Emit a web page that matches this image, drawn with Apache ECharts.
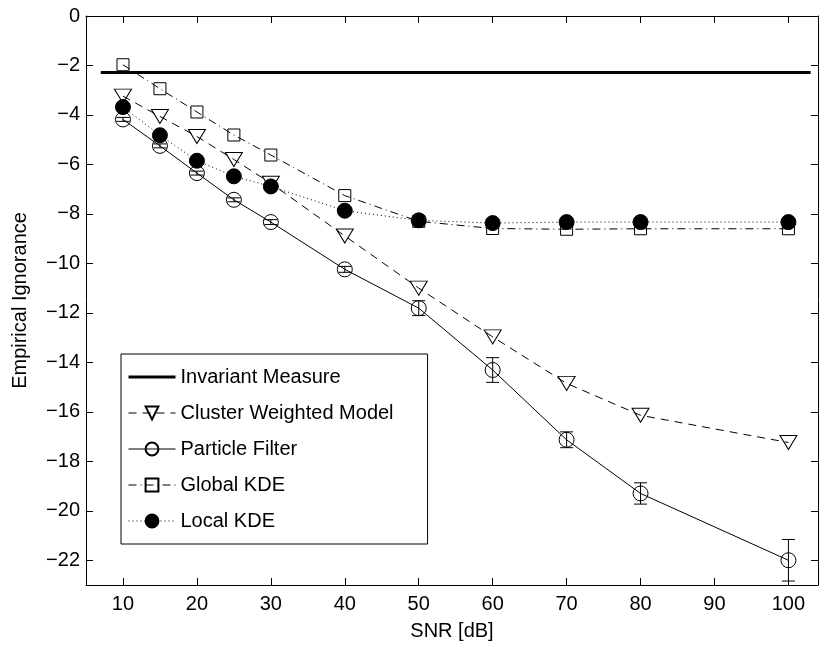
<!DOCTYPE html>
<html>
<head>
<meta charset="utf-8">
<script src="https://cdn.jsdelivr.net/npm/echarts@6/dist/echarts.min.js"></script>
<style>
  html, body { margin: 0; padding: 0; background: #fff; }
  #chart { width: 821px; height: 646px; }
</style>
</head>
<body>
<div id="chart"></div>
<script>
// SNR values (dB) at which each method was evaluated
const snr = [10, 15, 20, 25, 30, 40, 50, 60, 70, 80, 100];

// Empirical ignorance per method
const invariantX = [7, 103];
const invariantY = [-2.28, -2.28];
const clusterWeighted = [-3.24, -4.06, -4.87, -5.8, -6.76, -8.89, -11.0, -12.97, -14.85, -16.14, -17.24];
const particleFilter = [-4.18, -5.25, -6.35, -7.43, -8.33, -10.24, -11.81, -14.31, -17.13, -19.3, -22.0];
const particleFilterErr = [0.08, 0.08, 0.08, 0.08, 0.1, 0.12, 0.3, 0.5, 0.32, 0.43, 0.84];
const globalKDE = [-1.97, -2.94, -3.88, -4.81, -5.62, -7.26, -8.3, -8.59, -8.62, -8.6, -8.6];
const localKDE = [-3.68, -4.82, -5.85, -6.48, -6.89, -7.87, -8.26, -8.37, -8.33, -8.33, -8.33];

// Tick positions
const xTicks = [10, 20, 30, 40, 50, 60, 70, 80, 90, 100];
const yTicks = [0, -2, -4, -6, -8, -10, -12, -14, -16, -18, -20, -22];

const names = ['Invariant Measure', 'Cluster Weighted Model', 'Particle Filter', 'Global KDE', 'Local KDE'];

const FONT = 'Liberation Sans, Arial, Helvetica, sans-serif';
const pairs = (xs, ys) => xs.map((x, i) => [x, ys[i]]);
const minus = v => String(v).replace('-', '\u2212');

const chart = echarts.init(document.getElementById('chart'), null, { renderer: 'canvas' });

const frameAxis = {
  type: 'value',
  axisLine: { show: true, onZero: false, lineStyle: { color: '#000', width: 1 } },
  axisTick: { show: true, inside: true, length: 7, lineStyle: { color: '#000', width: 1 } },
  splitLine: { show: false },
  axisLabel: { show: false }
};

// legend entries; the reference line keeps its heavier stroke
const legendData = names.map(n => n === 'Invariant Measure'
  ? { name: n, lineStyle: { width: 3 } }
  : { name: n });

const option = {
  animation: false,
  backgroundColor: '#fff',
  textStyle: { fontFamily: FONT, color: '#000' },
  grid: { left: 86, right: 3, top: 16, bottom: 57, containLabel: false },
  xAxis: [
    Object.assign({}, frameAxis, {
      position: 'bottom', min: 5, max: 104,
      axisTick: Object.assign({}, frameAxis.axisTick, { customValues: xTicks }),
      axisLabel: { show: true, customValues: xTicks, fontSize: 20, color: '#000', margin: 9, fontFamily: FONT },
      name: 'SNR [dB]', nameLocation: 'middle', nameGap: 36,
      nameTextStyle: { fontSize: 20, color: '#000', fontFamily: FONT }
    }),
    Object.assign({}, frameAxis, {
      position: 'top', min: 5, max: 104,
      axisTick: Object.assign({}, frameAxis.axisTick, { customValues: xTicks })
    })
  ],
  yAxis: [
    Object.assign({}, frameAxis, {
      position: 'left', min: -23, max: 0,
      axisTick: Object.assign({}, frameAxis.axisTick, { customValues: yTicks }),
      axisLabel: { show: true, customValues: yTicks, fontSize: 20, color: '#000', margin: 6,
                   fontFamily: FONT, formatter: minus },
      name: 'Empirical Ignorance', nameLocation: 'middle', nameGap: 56,
      nameTextStyle: { fontSize: 20, color: '#000', fontFamily: FONT }
    }),
    Object.assign({}, frameAxis, {
      position: 'right', min: -23, max: 0,
      axisTick: Object.assign({}, frameAxis.axisTick, { customValues: yTicks })
    })
  ],
  legend: {
    data: legendData,
    orient: 'vertical',
    left: 121, top: 354,
    padding: [13, 34, 13, 6],
    itemWidth: 47, itemHeight: 16, itemGap: 16,
    borderColor: '#000', borderWidth: 1, backgroundColor: '#fff',
    selectedMode: false,
    lineStyle: { width: 1 },
    textStyle: { fontSize: 20, color: '#000', fontFamily: FONT }
  },
  series: [
    {
      name: 'Invariant Measure', type: 'line',
      data: pairs(invariantX, invariantY),
      symbol: 'none',
      lineStyle: { color: '#000', width: 3 },
      // no marker: keep the legend icon a plain line
      itemStyle: { color: 'rgba(0,0,0,0)', borderColor: 'rgba(0,0,0,0)', borderWidth: 0 },
      z: 2
    },
    {
      name: 'Cluster Weighted Model', type: 'line',
      data: pairs(snr, clusterWeighted),
      symbol: 'triangle', symbolSize: [17, 14], symbolRotate: 180,
      lineStyle: { color: '#000', width: 1, type: [8, 6] },
      itemStyle: { color: 'rgba(0,0,0,0)', borderColor: '#000', borderWidth: 1 },
      z: 3
    },
    {
      name: 'Particle Filter', type: 'line',
      data: pairs(snr, particleFilter),
      symbol: 'circle', symbolSize: 15,
      lineStyle: { color: '#000', width: 1 },
      itemStyle: { color: 'rgba(0,0,0,0)', borderColor: '#000', borderWidth: 1 },
      z: 4
    },
    {
      // error bars for the particle filter
      name: 'Particle Filter error', type: 'custom',
      data: snr.map((x, i) => [x, particleFilter[i], particleFilterErr[i]]),
      encode: { x: 0, y: 1 },
      renderItem: function (params, api) {
        const x = api.value(0), y = api.value(1), e = api.value(2);
        const top = api.coord([x, y + e]);
        const bot = api.coord([x, y - e]);
        const h = 6.5;
        const style = { stroke: '#000', lineWidth: 1, fill: null };
        return {
          type: 'group',
          children: [
            { type: 'line', shape: { x1: top[0], y1: top[1], x2: bot[0], y2: bot[1] }, style },
            { type: 'line', shape: { x1: top[0] - h, y1: top[1], x2: top[0] + h, y2: top[1] }, style },
            { type: 'line', shape: { x1: bot[0] - h, y1: bot[1], x2: bot[0] + h, y2: bot[1] }, style }
          ]
        };
      },
      z: 4
    },
    {
      name: 'Global KDE', type: 'line',
      data: pairs(snr, globalKDE),
      symbol: 'rect', symbolSize: 12,
      lineStyle: { color: '#000', width: 1, type: [8, 4, 1, 4] },
      itemStyle: { color: 'rgba(0,0,0,0)', borderColor: '#000', borderWidth: 1 },
      z: 5
    },
    {
      name: 'Local KDE', type: 'line',
      data: pairs(snr, localKDE),
      symbol: 'circle', symbolSize: 15,
      lineStyle: { color: '#000', width: 1, type: [1, 3] },
      itemStyle: { color: '#000', borderColor: '#000', borderWidth: 1 },
      z: 6
    }
  ]
};

chart.setOption(option);
</script>
</body>
</html>
